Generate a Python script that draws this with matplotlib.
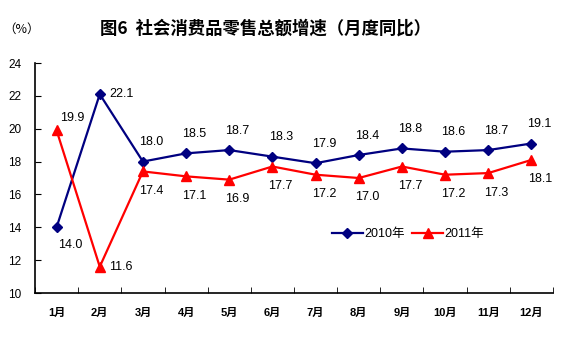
import numpy as np
import matplotlib.pyplot as plt

plt.rcParams['font.family'] = ['Liberation Sans', 'Noto Sans CJK SC', 'DejaVu Sans']

months = ['1月', '2月', '3月', '4月', '5月', '6月', '7月', '8月', '9月', '10月', '11月', '12月']
y2010 = [14.0, 22.1, 18.0, 18.5, 18.7, 18.3, 17.9, 18.4, 18.8, 18.6, 18.7, 19.1]
y2011 = [19.9, 11.6, 17.4, 17.1, 16.9, 17.7, 17.2, 17.0, 17.7, 17.2, 17.3, 18.1]
yticks = [10, 12, 14, 16, 18, 20, 22, 24]

fig = plt.figure(figsize=(5.68, 3.41), dpi=100)
ax = fig.add_axes([35 / 568, 1 - 293 / 341, 518 / 568, 230 / 341])

x = np.arange(len(months))
ax.plot(x, y2010, color='#000080', lw=1.6, marker='D', ms=5, label='2010年')
ax.plot(x, y2011, color='#FF0000', lw=1.6, marker='^', ms=6.5, label='2011年')

# 数据标签（点数偏移）
off2010 = [(10, -13)] + [(7, 0)] + [(6, 14)] * 10
off2011 = [(11, 9)] + [(7, 0)] + [(6, -14)] * 10
for i in range(len(months)):
    ha = 'left' if i == 1 else 'center'
    dx, dy = off2010[i]
    ax.annotate(f'{y2010[i]:.1f}', (x[i], y2010[i]), xytext=(dx, dy),
                textcoords='offset points', ha=ha, va='center', fontsize=9)
    dx, dy = off2011[i]
    ax.annotate(f'{y2011[i]:.1f}', (x[i], y2011[i]), xytext=(dx, dy),
                textcoords='offset points', ha=ha, va='center', fontsize=9)

ax.set_xlim(-0.5, len(months) - 0.5)
ax.set_ylim(10, 24)
ax.set_yticks(yticks)
ax.tick_params(axis='y', direction='in', length=4, labelsize=8.5, pad=10)
ax.set_xticks(x)
ax.set_xticklabels(months, fontsize=8, fontweight='bold')
ax.set_xticks(np.arange(-0.5, len(months)), minor=True)
ax.tick_params(axis='x', which='major', length=0, pad=11)
ax.tick_params(axis='x', which='minor', direction='in', length=4)
for s in ['top', 'right']:
    ax.spines[s].set_visible(False)
for s in ['left', 'bottom']:
    ax.spines[s].set_linewidth(1.2)

ax.legend(loc='center', bbox_to_anchor=(0.72, 0.257), ncol=2, frameon=False,
          fontsize=9, handlelength=2.5, handletextpad=0.1, columnspacing=0.6)

fig.text(266 / 568, 1 - 29 / 341, '图6  社会消费品零售总额增速（月度同比）',
         ha='center', va='center', fontsize=12.5, fontweight='bold',
         family=['Noto Sans CJK SC', 'DejaVu Sans'])
fig.text(22 / 568, 1 - 29 / 341, '（%）', ha='center', va='center', fontsize=9,
         family=['Noto Sans CJK SC', 'DejaVu Sans'])

fig.savefig('out.png', dpi=100)
